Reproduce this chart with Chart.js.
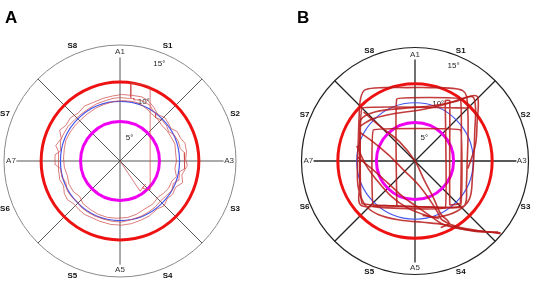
<!DOCTYPE html>
<html>
<head>
<meta charset="utf-8">
<script src="https://cdn.jsdelivr.net/npm/chart.js@4.4.1/dist/chart.umd.min.js"></script>
<style>
    body { margin: 0; background: #fff; width: 536px; height: 289px; overflow: hidden; position: relative; font-family: "Liberation Sans", Arial, sans-serif; }
    .panel { position: absolute; top: 0; width: 268px; height: 289px; }
    .letter { position: absolute; top: 8px; font-weight: bold; font-size: 17px; color: #000; }
</style>
</head>
<body>
<div class="panel" style="left:0"><canvas id="chartA" width="268" height="289"></canvas></div>
<div class="panel" style="left:268px"><canvas id="chartB" width="268" height="289"></canvas></div>
<div class="letter" style="left:5px">A</div>
<div class="letter" style="left:297px">B</div>
<script>
// direction labels round the target (angle in degrees, clockwise from top)
const dirLabels = ['A1', 'S1', 'S2', 'A3', 'S3', 'S4', 'A5', 'S5', 'S6', 'A7', 'S7', 'S8'];
const dirAngles = [0, 22.5, 67.5, 90, 112.5, 157.5, 180, 202.5, 247.5, 270, 292.5, 337.5];
const spokeAngles = [0, 45, 90, 135, 180, 225, 270, 315];

// rings (degrees of sway)
const ringValues = [5.1, 7.7, 10.2];
const ringLabels = ['5°', '10°', '15°'];
const ringLabelRadii = [3.3, 8.2, 13.6];
const outerRadius = 15;

// panel A traces (x, y in degrees)
const traceA1 = [[0.0,8.2],[1.0,8.1],[1.8,8.1],[1.8,7.9],[2.6,7.9],[3.2,7.6],[3.9,7.2],[4.3,6.4],[4.6,6.2],[4.6,5.6],[5.4,5.3],[6.0,4.6],[6.3,3.8],[7.0,3.4],[7.5,2.6],[7.8,1.6],[8.3,1.1],[8.4,0.0],[8.3,-1.0],[7.7,-1.4],[7.6,-2.5],[6.9,-2.9],[6.7,-3.8],[6.0,-4.5],[5.3,-5.1],[4.6,-5.9],[3.7,-6.6],[2.6,-7.2],[1.4,-7.6],[0.2,-7.9],[-1.0,-7.8],[-2.2,-7.5],[-3.3,-7.1],[-4.2,-6.6],[-5.0,-6.0],[-5.6,-5.2],[-6.2,-4.7],[-6.8,-3.9],[-7.0,-2.8],[-7.5,-2.1],[-7.7,-1.0],[-8.3,-0.5],[-8.4,0.8],[-7.7,1.3],[-7.7,2.6],[-7.3,3.5],[-6.7,4.5],[-5.9,5.3],[-5.0,6.1],[-4.0,6.8],[-3.0,7.4],[-1.9,7.8],[-0.9,8.1],[0.0,8.2]];
const traceA2 = [[0.2,8.6],[1.5,8.5],[2.8,8.3],[3.5,7.9],[4.0,7.4],[4.4,6.9],[4.9,6.0],[5.8,5.6],[6.3,4.8],[6.6,4.2],[7.4,3.8],[7.8,3.0],[8.4,2.3],[8.6,1.2],[8.5,0.3],[8.7,-0.6],[8.0,-1.8],[8.1,-2.8],[7.2,-3.4],[6.8,-4.3],[6.1,-4.9],[5.7,-5.8],[4.8,-6.2],[3.8,-7.1],[2.8,-7.6],[1.5,-8.1],[0.2,-8.3],[-1.2,-8.2],[-2.6,-7.8],[-3.5,-7.4],[-4.6,-6.9],[-5.3,-6.3],[-5.9,-5.6],[-6.8,-5.0],[-7.2,-4.2],[-7.3,-3.2],[-7.8,-2.4],[-7.9,-1.4],[-8.0,-0.2],[-7.9,1.2],[-8.3,2.0],[-7.6,2.9],[-7.8,4.0],[-7.0,4.6],[-6.4,5.6],[-5.4,6.2],[-4.6,7.1],[-3.4,7.6],[-2.2,8.1],[-1.0,8.4],[0.2,8.6]];
const traceA3 = [[0.5,7.8],[1.6,7.7],[2.4,7.5],[3.0,7.1],[3.6,6.6],[4.1,6.1],[4.9,5.4],[5.4,4.6],[6.1,3.9],[6.6,3.1],[7.1,2.2],[7.2,1.0],[7.3,0.0],[7.1,-1.0],[7.3,-2.0],[6.7,-2.6],[6.3,-3.5],[5.6,-4.2],[5.0,-4.6],[4.2,-5.6],[3.2,-6.2],[2.1,-6.9],[1.0,-7.3],[-0.4,-7.4],[-1.6,-7.3],[-2.8,-6.9],[-3.8,-6.3],[-4.8,-5.5],[-5.2,-4.6],[-6.0,-4.0],[-6.6,-3.0],[-6.8,-1.9],[-7.2,-0.8],[-7.3,0.4],[-7.2,1.6],[-7.0,2.7],[-6.4,3.8],[-5.8,4.6],[-5.0,5.4],[-4.2,6.1],[-3.2,6.8],[-2.1,7.3],[-0.8,7.7],[0.5,7.8]];
const traceA0 = [[0,0],[2.6,-3.9],[3.3,-3.0],[2.9,-3.5],[3.6,-3.7],[3.9,-3.7],[3.9,9.6],[3.3,9.8],[1.4,10.1],[1.4,8.2]];

// panel B traces
const traceB1 = [[11.3,-9.5],[7.0,-9.1],[3.8,-8.4],[1.0,-8.1],[-2.0,-7.8],[-4.8,-7.1],[-6.6,-5.8],[-7.5,-3.5],[-7.6,-0.5],[-7.5,2.5],[-7.4,5.5],[-7.2,8.2],[-6.6,9.4],[-4.0,9.7],[-1.0,9.7],[2.0,9.7],[5.0,9.6],[6.3,9.3],[6.8,8.6],[7.0,6.0],[7.0,3.0],[6.9,0.0],[6.8,-3.0],[6.6,-5.8],[5.0,-6.2],[2.0,-6.1],[-1.0,-6.0],[-4.0,-5.9],[-7.2,-5.8],[-7.3,-3.0],[-7.3,0.0],[-7.3,3.0],[-7.2,5.4],[-5.2,6.5],[-1.0,7.0],[2.3,7.3],[5.5,7.9],[7.6,8.5],[8.0,7.0],[7.9,4.0],[7.8,1.0],[7.6,-2.0],[7.2,-5.0],[5.6,-6.6],[3.0,-7.4],[1.0,-7.2]];
const traceB2 = [[-2.4,-6.0],[-2.4,8.2],[6.0,8.2],[6.0,-5.6],[4.6,-5.8],[4.6,8.0],[4.0,8.0],[4.0,-6.2],[-5.5,-6.0],[-5.5,4.1],[6.0,4.1],[6.0,-6.0],[-7.0,-5.6],[-7.0,7.0],[7.0,7.0]];
const traceB3 = [[-7.3,3.8],[-5.5,2.5],[-3.5,0.8],[-1.5,-1.2],[0.5,-3.2],[2.0,-5.2],[3.0,-6.8],[3.6,-7.8],[6.0,-8.8],[11.3,-9.6]];
const traceB4 = [[-7.6,0.5],[-5.5,-1.2],[-3.5,-3.0],[-1.5,-4.8],[0.5,-6.2],[2.2,-7.4],[4.0,-8.5],[8.0,-9.3],[11.0,-9.4]];
const traceB5 = [[-6.8,6.5],[-4.5,4.5],[-2.0,2.5],[0.0,0.0],[1.2,-2.5],[2.5,-5.0],[3.4,-7.0],[4.5,-8.2],[3.4,-8.8]];
const traceB6 = [[-7.3,4.6],[-5.5,5.6],[-2.5,6.3],[1.0,6.8],[4.0,7.5],[7.4,8.6],[8.3,8.4],[8.2,5.0],[8.0,2.2],[7.0,-1.0]];
const traceB7 = [[-7.7,2.0],[-6.5,-0.5],[-5.0,-2.6],[-3.2,-4.6],[-1.0,-6.2],[1.5,-7.2],[3.2,-7.6]];

function toPoints(arr) {
    return arr.map(p => ({ x: p[0], y: p[1] }));
}

const polarGrid = {
    id: 'polarGrid',
    beforeDatasetsDraw(chart, args, opts) {
        const ctx = chart.ctx;
        const sx = chart.scales.x;
        const sy = chart.scales.y;
        const at = (r, a) => {
            const t = a * Math.PI / 180;
            return [sx.getPixelForValue(r * Math.sin(t)), sy.getPixelForValue(r * Math.cos(t))];
        };
        const cx = sx.getPixelForValue(0);
        const cy = sy.getPixelForValue(0);
        const rad = v => sx.getPixelForValue(v) - cx;

        ctx.save();
        // outer circle
        ctx.strokeStyle = opts.outerColor;
        ctx.lineWidth = opts.outerWidth;
        ctx.beginPath();
        ctx.arc(cx, cy, rad(outerRadius), 0, Math.PI * 2);
        ctx.stroke();

        // spokes
        ctx.strokeStyle = opts.axisColor;
        ctx.lineWidth = opts.spokeWidth;
        spokeAngles.forEach(a => {
            const end = (a % 90 === 0) ? 13.4 : outerRadius;
            const p = at(end, a);
            ctx.beginPath();
            ctx.moveTo(cx, cy);
            ctx.lineTo(p[0], p[1]);
            ctx.stroke();
        });

        // rings
        const ringColors = ['#f000f0', '#4455ee', '#ee1111'];
        const ringWidths = [3, 1.2, 3];
        ringValues.forEach((v, i) => {
            ctx.strokeStyle = ringColors[i];
            ctx.lineWidth = ringWidths[i];
            ctx.beginPath();
            ctx.arc(cx, cy, rad(v), 0, Math.PI * 2);
            ctx.stroke();
        });

        // labels
        ctx.textAlign = 'center';
        ctx.textBaseline = 'middle';
        dirLabels.forEach((lab, i) => {
            const isA = lab[0] === 'A';
            const p = at(isA ? 14.1 : opts.labelRadius, dirAngles[i]);
            ctx.font = isA ? '8px "Liberation Sans", Arial' : 'bold 8px "Liberation Sans", Arial';
            ctx.fillStyle = isA ? '#333' : '#111';
            ctx.fillText(lab, p[0], p[1]);
        });
        ctx.font = '8px "Liberation Sans", Arial';
        ctx.fillStyle = '#222';
        ringLabels.forEach((lab, i) => {
            const p = at(ringLabelRadii[i], 22);
            ctx.fillText(lab, p[0], p[1]);
        });
        ctx.restore();
    }
};

function makeChart(id, datasets, grid, padding) {
    const ctx = document.getElementById(id).getContext('2d');

    const options = {
        responsive: false,
        animation: false,
        layout: { padding: padding },
        scales: {
            x: { type: 'linear', display: false, min: -outerRadius, max: outerRadius },
            y: { type: 'linear', display: false, min: -outerRadius, max: outerRadius }
        },
        elements: { point: { radius: 0 } },
        plugins: {
            legend: { display: false },
            tooltip: { enabled: false },
            polarGrid: grid
        }
    };

    return new Chart(ctx, {
        type: 'scatter',
        data: { datasets: datasets },
        options: options,
        plugins: [polarGrid]
    });
}

const lineA = { showLine: true, borderColor: 'rgba(205,70,70,0.7)', borderWidth: 1, tension: 0, clip: false };
const lineB = { showLine: true, borderColor: 'rgba(185,25,25,0.85)', borderWidth: 1.6, tension: 0.35, clip: false };

const chartA = makeChart('chartA', [
    Object.assign({ data: toPoints(traceA1) }, lineA),
    Object.assign({ data: toPoints(traceA2) }, lineA),
    Object.assign({ data: toPoints(traceA3) }, lineA),
    Object.assign({ data: toPoints(traceA0) }, lineA)
], { outerColor: '#888', axisColor: '#444', outerWidth: 1, spokeWidth: 0.9, labelRadius: 16.1 },
   { left: 4, right: 32, top: 45, bottom: 12 });

const chartB = makeChart('chartB', [
    Object.assign({ data: toPoints(traceB1) }, lineB),
    Object.assign({ data: toPoints(traceB2) }, lineB, { tension: 0.05 }),
    Object.assign({ data: toPoints(traceB3) }, lineB),
    Object.assign({ data: toPoints(traceB4) }, lineB),
    Object.assign({ data: toPoints(traceB5) }, lineB),
    Object.assign({ data: toPoints(traceB6) }, lineB),
    Object.assign({ data: toPoints(traceB7) }, lineB)
], { outerColor: '#222', axisColor: '#222', outerWidth: 1.2, spokeWidth: 1.3, labelRadius: 15.8 },
   { left: 33.5, right: 7.5, top: 47.5, bottom: 14.5 });
</script>
</body>
</html>
